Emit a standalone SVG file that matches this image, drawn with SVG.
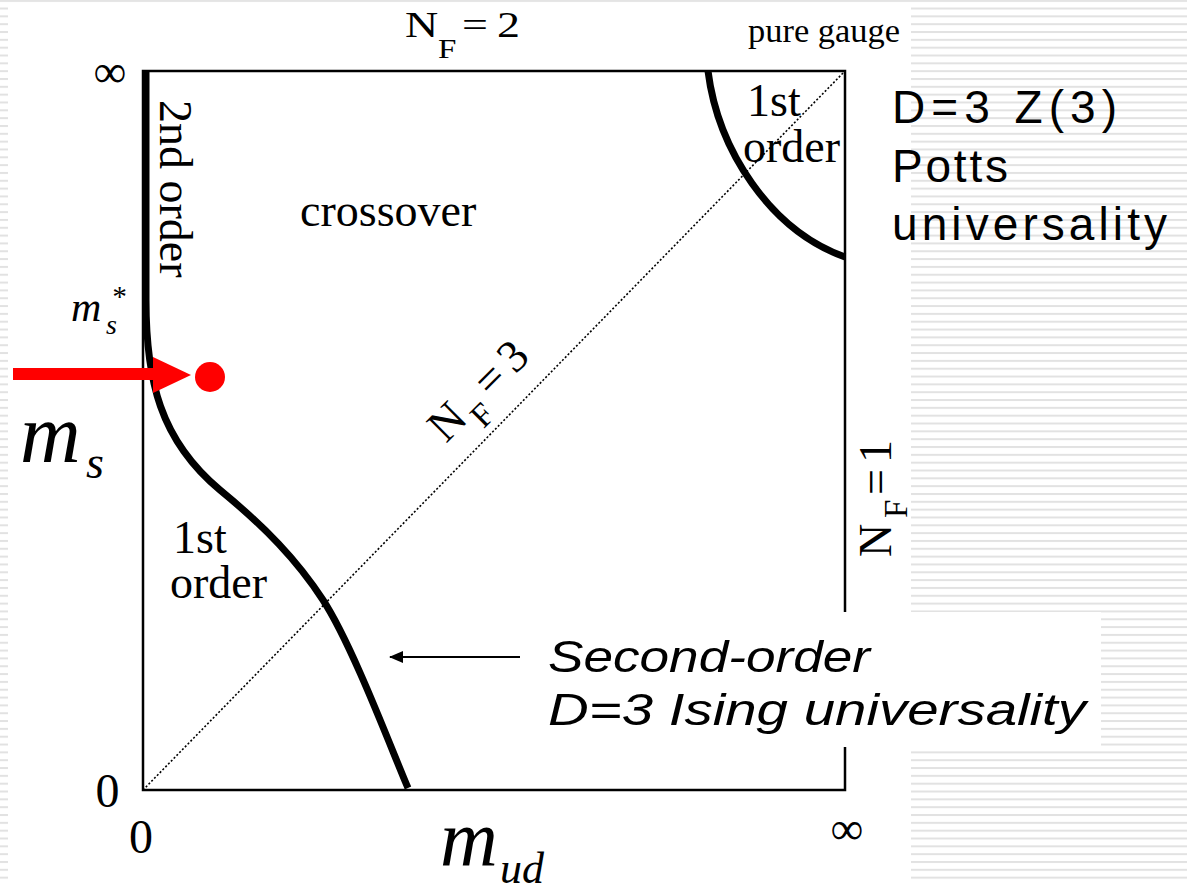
<svg xmlns="http://www.w3.org/2000/svg" width="1187" height="883" viewBox="0 0 1187 883">
<defs>
<pattern id="stripes" patternUnits="userSpaceOnUse" x="0" y="-0.3" width="20" height="7.83">
<rect x="0" y="0" width="20" height="2" fill="#e2e2e2"/>
</pattern>
<marker id="ah" markerWidth="14" markerHeight="12" refX="13" refY="6" orient="auto" markerUnits="userSpaceOnUse">
<path d="M0,0 L14,6 L0,12 Z" fill="#000"/>
</marker>
</defs>
<style>
.serif{font-family:"Liberation Serif","Times New Roman",serif;fill:#000}
.lbl{font-size:46px}
.it{font-style:italic}
.sans{font-family:"Liberation Sans",Arial,sans-serif;fill:#000}
.thick{fill:none;stroke:#000;stroke-width:7}
</style>
<rect x="0" y="0" width="1187" height="883" fill="#fff"/>
<rect x="0" y="0" width="1187" height="883" fill="url(#stripes)"/>
<rect x="8" y="3" width="903" height="880" fill="#fff"/>
<rect x="0" y="0.5" width="1187" height="1.5" fill="#e6e6e6"/>

<g id="frame">
<rect x="143" y="71" width="702" height="719" fill="none" stroke="#000" stroke-width="2.5"/>
</g>

<g id="connectors">
<line x1="143" y1="790" x2="845" y2="71" stroke="#000" stroke-width="1.6" stroke-dasharray="2,2"/>
<path class="thick" d="M146,71 L146,300 C146,380 160,440 220,490 C265,527 297,560 323,600 C353,646 394,756 408,788"/>
<path class="thick" d="M708,71 C718,150 770,230 845,257"/>
<line x1="520" y1="657" x2="390" y2="657" stroke="#000" stroke-width="2" marker-end="url(#ah)"/>
<line x1="13" y1="374" x2="158" y2="374" stroke="#f00" stroke-width="12"/>
<polygon points="153,357 191,375 153,393" fill="#f00"/>
</g>

<g id="point"><circle cx="210" cy="377" r="15" fill="#f00"/></g>

<g id="axes" class="serif">
<text x="110" y="87" font-size="46" text-anchor="middle">∞</text>
<text x="847" y="844" font-size="46" text-anchor="middle">∞</text>
<text x="107.5" y="807" font-size="48" text-anchor="middle">0</text>
<text x="141" y="853" font-size="48" text-anchor="middle">0</text>
<text class="it" x="20" y="462" font-size="84">m<tspan x="86" y="478" font-size="46">s</tspan></text>
<text class="it" x="71" y="321" font-size="42">m<tspan x="106" y="334" font-size="28">s</tspan><tspan x="111" y="306" font-size="29">*</tspan></text>
<text class="it" x="440" y="865" font-size="80">m<tspan x="500" y="883" font-size="44">ud</tspan></text>
<text x="748" y="42" font-size="33" textLength="152" lengthAdjust="spacingAndGlyphs">pure gauge</text>
</g>

<g id="nf2" class="serif" transform="translate(405,37) scale(1,0.8)">
<text x="0" y="0" font-size="46">N</text>
<text x="33" y="26" font-size="33">F</text>
<text x="57" y="0" font-size="46">=</text>
<text x="92" y="0" font-size="46">2</text>
</g>
<g id="nf3" class="serif" transform="translate(446,444) rotate(-45)">
<text x="0" y="0" font-size="46">N</text>
<text x="37" y="16" font-size="33">F</text>
<text x="64" y="0" font-size="46">=</text>
<text x="98" y="0" font-size="46">3</text>
</g>
<g id="nf1" class="serif" transform="translate(891,557) rotate(-90)">
<text x="0" y="0" font-size="46">N</text>
<text x="39" y="16" font-size="33">F</text>
<text x="62" y="0" font-size="46">=</text>
<text x="94" y="0" font-size="46">1</text>
</g>

<g id="regions" class="serif lbl">
<text transform="translate(160,100) rotate(90)">2nd order</text>
<text x="300" y="226">crossover</text>
<text x="747" y="116">1st</text>
<text x="743" y="162">order</text>
<text x="173" y="553">1st</text>
<text x="170" y="598">order</text>
</g>

<g id="potts" class="sans" font-size="46">
<text x="892" y="123" textLength="225" lengthAdjust="spacing">D=3 Z(3)</text>
<text x="892" y="182" textLength="116" lengthAdjust="spacing">Potts</text>
<text x="892" y="240" textLength="275" lengthAdjust="spacing">universality</text>
</g>

<g id="ising">
<rect x="530" y="612" width="571" height="135" fill="#fff"/>
<text class="sans it" x="548" y="672" font-size="45" textLength="322" lengthAdjust="spacingAndGlyphs">Second-order</text>
<text class="sans it" x="548" y="725" font-size="45" textLength="538" lengthAdjust="spacingAndGlyphs">D=3 Ising universality</text>
</g>
</svg>
